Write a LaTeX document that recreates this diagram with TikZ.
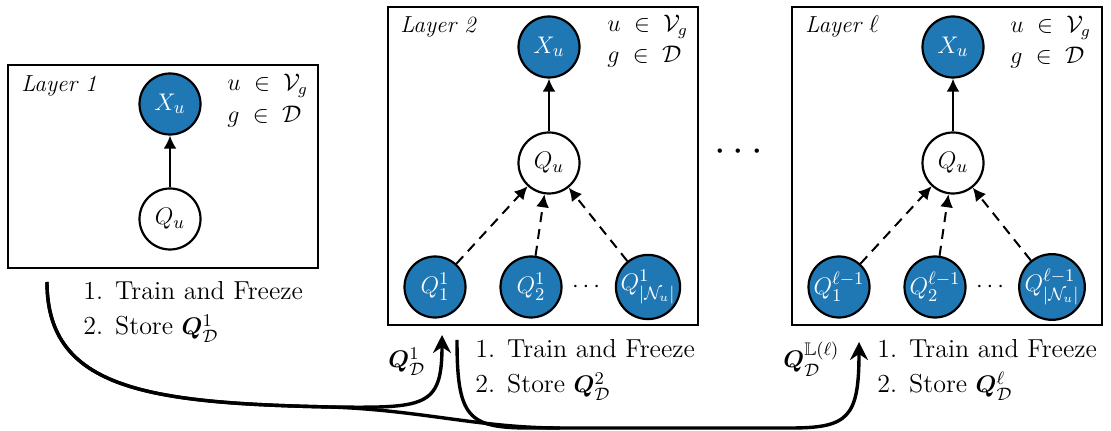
\documentclass[tikz,border=0pt]{standalone}
\usepackage{amsmath,amssymb,bm}
\usetikzlibrary{arrows.meta}
\definecolor{tabblue}{HTML}{1F77B4}
\begin{document}
\begin{tikzpicture}[x=0.5pt,y=-0.5pt,
  layerbox/.style={draw, line width=1pt, inner sep=0pt},
  obsnode/.style={circle, draw, line width=1.1pt, fill=tabblue, text=white, minimum size=30.5pt, inner sep=0pt, font=\fontsize{12.5}{14}\selectfont},
  latnode/.style={circle, draw, line width=1.1pt, fill=white, text=black, minimum size=30.5pt, inner sep=0pt, font=\fontsize{12.5}{14}\selectfont},
  layerlab/.style={anchor=base west, inner sep=0pt, font=\fontsize{11.6}{13}\selectfont\itshape},
  setlab/.style={anchor=base west, inner sep=0pt, font=\fontsize{11.5}{14}\selectfont},
  steplab/.style={anchor=base west, inner sep=0pt, font=\fontsize{13}{16}\selectfont},
  solidarr/.style={line width=1.2pt, -{Latex[length=6.5pt,width=6.5pt]}},
  dasharr/.style={line width=1pt, dash pattern=on 5pt off 3.5pt, -{Latex[length=6.5pt,width=6.5pt]}},
  bigarr/.style={line width=1.7pt, -{Stealth[length=9pt,width=9pt,inset=3pt]}},
  bigline/.style={line width=1.7pt}
]
\useasboundingbox (0,0) rectangle (1111,431);

% boxes
\node[layerbox, minimum width=155pt, minimum height=101.5pt] (L1) at (163,166.5) {};
\node[layerbox, minimum width=155pt, minimum height=159pt] (L2) at (543,166) {};
\node[layerbox, minimum width=155pt, minimum height=159pt] (L3) at (947,166) {};

% Layer 1
\node[layerlab] (t1) at (21,92) {Layer 1};
\node[setlab] (s1a) at (227,91) {$u \;\in\; \mathcal{V}_g$};
\node[setlab] (s1b) at (227,123) {$g \;\in\; \mathcal{D}$};
\node[obsnode] (X1) at (170,104) {$X_u$};
\node[latnode] (Q1) at (170,219) {$Q_u$};
\draw[solidarr] (Q1) -- (X1);

% Layer 2
\node[layerlab] (t2) at (400,33) {Layer 2};
\node[setlab] (s2a) at (607,32) {$u \;\in\; \mathcal{V}_g$};
\node[setlab] (s2b) at (607,63) {$g \;\in\; \mathcal{D}$};
\node[obsnode] (X2) at (549,47) {$X_u$};
\node[latnode] (Q2) at (549,163) {$Q_u$};
\node[obsnode] (A1) at (435,287) {$Q^1_1$};
\node[obsnode] (A2) at (531,287) {$Q^1_2$};
\node[obsnode] (A3) at (648,287) {$Q^1_{|\mathcal{N}_u|}$};
\node[anchor=base, inner sep=0pt, font=\fontsize{12.5}{14}\selectfont] (d2) at (588,293) {$\cdots$};
\draw[solidarr] (Q2) -- (X2);
\draw[dasharr] (A1) -- (Q2);
\draw[dasharr] (A2) -- (Q2);
\draw[dasharr] (A3) -- (Q2);

% Layer l
\node[layerlab] (t3) at (805,33) {Layer $\ell$};
\node[setlab] (s3a) at (1010,33) {$u \;\in\; \mathcal{V}_g$};
\node[setlab] (s3b) at (1010,64) {$g \;\in\; \mathcal{D}$};
\node[obsnode] (X3) at (953,47) {$X_u$};
\node[latnode] (Q3) at (953,163) {$Q_u$};
\node[obsnode] (B1) at (839,287) {$Q^{\ell-1}_1$};
\node[obsnode] (B2) at (935,287) {$Q^{\ell-1}_2$};
\node[obsnode] (B3) at (1052,287) {$Q^{\ell-1}_{|\mathcal{N}_u|}$};
\node[anchor=base, inner sep=0pt, font=\fontsize{12.5}{14}\selectfont] (d3) at (992,293) {$\cdots$};
\draw[solidarr] (Q3) -- (X3);
\draw[dasharr] (B1) -- (Q3);
\draw[dasharr] (B2) -- (Q3);
\draw[dasharr] (B3) -- (Q3);

% dots between layers
\node[anchor=base, inner sep=0pt, font=\fontsize{20}{24}\selectfont] (gap) at (742,162) {$\cdots$};

% step texts
\node[steplab] (p1a) at (83,300) {1.\hspace{6pt}Train and Freeze};
\node[steplab] (p1b) at (83,335) {2.\hspace{6pt}Store $\bm{Q}^1_{\mathcal{D}}$};
\node[steplab] (p2a) at (475,358) {1.\hspace{6pt}Train and Freeze};
\node[steplab] (p2b) at (475,393) {2.\hspace{6pt}Store $\bm{Q}^2_{\mathcal{D}}$};
\node[steplab] (p3a) at (877,358) {1.\hspace{6pt}Train and Freeze};
\node[steplab] (p3b) at (877,393) {2.\hspace{6pt}Store $\bm{Q}^{\ell}_{\mathcal{D}}$};

% arrow labels
\node[steplab] (q1) at (388,368) {$\bm{Q}^1_{\mathcal{D}}$};
\node[steplab] (q3) at (783,368) {$\bm{Q}^{\mathbb{L}(\ell)}_{\mathcal{D}}$};

% connector endpoints
\coordinate (st1) at (47,282);
\coordinate (en1) at (442,335);
\coordinate (st2) at (457,340);
\coordinate (en2) at (859,342);
\coordinate (jn) at (560,428);

% connectors
\draw[bigarr] (st1) .. controls (47,390) and (150,403) .. (330,407)
  .. controls (425,408) and (442,408) .. (en1);
\draw[bigline] (st1) .. controls (47,390) and (150,403) .. (330,407)
  .. controls (420,410) and (480,428) .. (jn);
\draw[bigarr] (st2) .. controls (457,418) and (468,428) .. (530,428)
  -- (790,428) .. controls (848,428) and (859,418) .. (en2);
\end{tikzpicture}
\end{document}
